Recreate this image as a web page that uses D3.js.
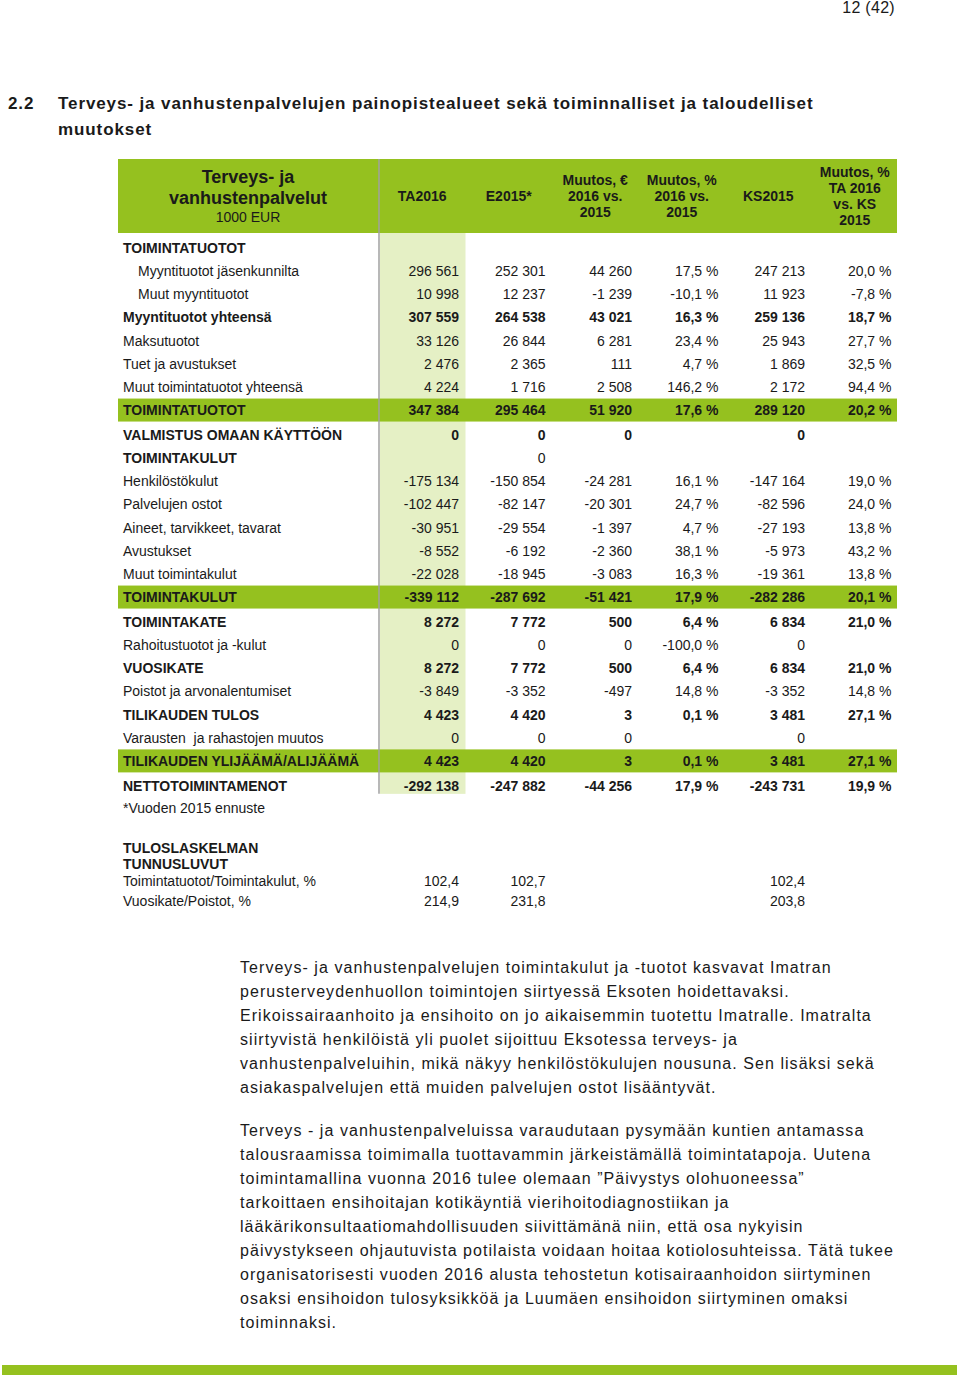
<!DOCTYPE html>
<html>
<head>
<meta charset="utf-8">
<script src="https://d3js.org/d3.v7.min.js"></script>
<style>
  body { margin: 0; background: #fff; }
  svg text { font-family: "Liberation Sans", Arial, sans-serif; fill: #1a1a1a; }
</style>
</head>
<body>
<div id="page"></div>
<script>
// Table data (1000 EUR)
const columns = ["TA2016", "E2015*", "Muutos, € 2016 vs. 2015", "Muutos, % 2016 vs. 2015", "KS2015", "Muutos, % TA 2016 vs. KS 2015"];
const columnHeaderLines = [["TA2016"], ["E2015*"], ["Muutos, €", "2016 vs.", "2015"], ["Muutos, %", "2016 vs.", "2015"], ["KS2015"], ["Muutos, %", "TA 2016", "vs. KS", "2015"]];
const percentColumns = [3, 5];

const rowLabels = [
  "TOIMINTATUOTOT", "Myyntituotot jäsenkunnilta", "Muut myyntituotot", "Myyntituotot yhteensä",
  "Maksutuotot", "Tuet ja avustukset", "Muut toimintatuotot yhteensä", "TOIMINTATUOTOT",
  "VALMISTUS OMAAN KÄYTTÖÖN", "TOIMINTAKULUT", "Henkilöstökulut", "Palvelujen ostot",
  "Aineet, tarvikkeet, tavarat", "Avustukset", "Muut toimintakulut", "TOIMINTAKULUT",
  "TOIMINTAKATE", "Rahoitustuotot ja -kulut", "VUOSIKATE", "Poistot ja arvonalentumiset",
  "TILIKAUDEN TULOS", "Varausten  ja rahastojen muutos", "TILIKAUDEN YLIJÄÄMÄ/ALIJÄÄMÄ", "NETTOTOIMINTAMENOT"
];
// head = bold label only, indent, normal, bold, green = highlighted total
const rowKinds = [
  "head", "indent", "indent", "bold", "normal", "normal", "normal", "green",
  "bold", "head", "normal", "normal", "normal", "normal", "normal", "green",
  "bold", "normal", "bold", "normal", "bold", "normal", "green", "bold"
];
const ta2016 =    [null, 296561, 10998, 307559, 33126, 2476, 4224, 347384, 0, null, -175134, -102447, -30951, -8552, -22028, -339112, 8272, 0, 8272, -3849, 4423, 0, 4423, -292138];
const e2015 =     [null, 252301, 12237, 264538, 26844, 2365, 1716, 295464, 0, 0, -150854, -82147, -29554, -6192, -18945, -287692, 7772, 0, 7772, -3352, 4420, 0, 4420, -247882];
const muutosEur = [null, 44260, -1239, 43021, 6281, 111, 2508, 51920, 0, null, -24281, -20301, -1397, -2360, -3083, -51421, 500, 0, 500, -497, 3, 0, 3, -44256];
const muutosPct = [null, 17.5, -10.1, 16.3, 23.4, 4.7, 146.2, 17.6, null, null, 16.1, 24.7, 4.7, 38.1, 16.3, 17.9, 6.4, -100.0, 6.4, 14.8, 0.1, null, 0.1, 17.9];
const ks2015 =    [null, 247213, 11923, 259136, 25943, 1869, 2172, 289120, 0, null, -147164, -82596, -27193, -5973, -19361, -282286, 6834, 0, 6834, -3352, 3481, 0, 3481, -243731];
const muutosKs =  [null, 20.0, -7.8, 18.7, 27.7, 32.5, 94.4, 20.2, null, null, 19.0, 24.0, 13.8, 43.2, 13.8, 20.1, 21.0, null, 21.0, 14.8, 27.1, null, 27.1, 19.9];
const seriesValues = [ta2016, e2015, muutosEur, muutosPct, ks2015, muutosKs];

// Key figures
const keyLabels = ["Toimintatuotot/Toimintakulut, %", "Vuosikate/Poistot, %"];
const keyTA2016 = [102.4, 214.9];
const keyE2015 = [102.7, 231.8];
const keyKS2015 = [102.4, 203.8];

const paragraph1 = [
  "Terveys- ja vanhustenpalvelujen toimintakulut ja -tuotot kasvavat Imatran",
  "perusterveydenhuollon toimintojen siirtyessä Eksoten hoidettavaksi.",
  "Erikoissairaanhoito ja ensihoito on jo aikaisemmin tuotettu Imatralle. Imatralta",
  "siirtyvistä henkilöistä yli puolet sijoittuu Eksotessa terveys- ja",
  "vanhustenpalveluihin, mikä näkyy henkilöstökulujen nousuna. Sen lisäksi sekä",
  "asiakaspalvelujen että muiden palvelujen ostot lisääntyvät."
];
const paragraph2 = [
  "Terveys - ja vanhustenpalveluissa varaudutaan pysymään kuntien antamassa",
  "talousraamissa toimimalla tuottavammin järkeistämällä toimintatapoja. Uutena",
  "toimintamallina vuonna 2016 tulee olemaan ”Päivystys olohuoneessa”",
  "tarkoittaen ensihoitajan kotikäyntiä vierihoitodiagnostiikan ja",
  "lääkärikonsultaatiomahdollisuuden siivittämänä niin, että osa nykyisin",
  "päivystykseen ohjautuvista potilaista voidaan hoitaa kotiolosuhteissa. Tätä tukee",
  "organisatorisesti vuoden 2016 alusta tehostetun kotisairaanhoidon siirtyminen",
  "osaksi ensihoidon tulosyksikköä ja Luumäen ensihoidon siirtyminen omaksi",
  "toiminnaksi."
];

const width = 960, height = 1380;
const green = "#95c11f", lightGreen = "#e5f0c5";

const fi = d3.formatLocale({ decimal: ",", thousands: "\u00a0", grouping: [3], currency: ["", "€"], minus: "-" });
const fmtNum = fi.format(",d");
const fmtPct = v => fi.format(",.1f")(v) + " %";
const fmtDec = fi.format(",.1f");

const svg = d3.select("#page").append("svg")
  .attr("width", width).attr("height", height);

svg.append("rect").attr("width", width).attr("height", height).attr("fill", "#fff");

// page number and section heading
svg.append("text").attr("x", 895).attr("y", 13).attr("text-anchor", "end")
  .style("font-size", "16px").style("letter-spacing", "0.3px").text("12 (42)");
const heading = svg.append("g").style("font-size", "17px").style("font-weight", "bold").style("letter-spacing", "0.9px");
heading.append("text").attr("x", 8).attr("y", 109).text("2.2");
heading.append("text").attr("x", 58).attr("y", 109)
  .text("Terveys- ja vanhustenpalvelujen painopistealueet sekä toiminnalliset ja taloudelliset");
heading.append("text").attr("x", 58).attr("y", 135).text("muutokset");

// scales
const tableLeft = 118, tableRight = 897, dividerX = 379;
const x = d3.scaleBand().domain(d3.range(columns.length)).range([380, 899]);
const rowStep = 23.15;
const extraAfterGreen = rowKinds.map((k, i) => rowKinds.slice(0, i).filter(r => r === "green").length * 1.8);
const y = d3.scaleLinear().domain([0, 1]).range([248, 248 + rowStep]);
const rowY = i => y(i) + extraAfterGreen[i];

const headerTop = 159, headerBottom = 233;
const tableBottom = rowY(rowLabels.length - 1) + 8;

// light green TA2016 column
svg.append("rect")
  .attr("x", x(0)).attr("y", headerBottom)
  .attr("width", x.bandwidth() - 1).attr("height", tableBottom - headerBottom)
  .attr("fill", lightGreen);

// header band
svg.append("rect")
  .attr("x", tableLeft).attr("y", headerTop)
  .attr("width", tableRight - tableLeft).attr("height", headerBottom - headerTop)
  .attr("fill", green);

// green total rows
svg.selectAll("rect.total")
  .data(rowKinds.map((k, i) => ({ k, i })).filter(d => d.k === "green"))
  .join("rect")
  .attr("class", "total")
  .attr("x", tableLeft).attr("y", d => rowY(d.i) - 11.5)
  .attr("width", tableRight - tableLeft).attr("height", 23)
  .attr("fill", green);

// vertical divider
svg.append("line")
  .attr("x1", dividerX).attr("x2", dividerX)
  .attr("y1", headerTop).attr("y2", tableBottom)
  .attr("stroke", "#a0a0a0").attr("stroke-width", 1.5);

// header texts
const hdr = svg.append("g").attr("text-anchor", "middle");
hdr.append("text").attr("x", 248).attr("y", 183).style("font-size", "18px").style("font-weight", "bold").text("Terveys- ja");
hdr.append("text").attr("x", 248).attr("y", 204).style("font-size", "18px").style("font-weight", "bold").text("vanhustenpalvelut");
hdr.append("text").attr("x", 248).attr("y", 222).style("font-size", "14px").text("1000 EUR");

columnHeaderLines.forEach((lines, c) => {
  const cx = x(c) + x.bandwidth() / 2 - 1;
  const top = 196 - (lines.length - 1) * 16 / 2;
  lines.forEach((ln, j) => {
    hdr.append("text")
      .attr("x", cx).attr("y", top + j * 16).attr("dy", "0.35em")
      .style("font-size", "14px").style("font-weight", "bold")
      .text(ln);
  });
});

// row labels
svg.append("g").selectAll("text")
  .data(rowLabels.map((label, i) => ({ label, i, kind: rowKinds[i] })))
  .join("text")
  .attr("x", d => d.kind === "indent" ? 138 : 123)
  .attr("y", d => rowY(d.i)).attr("dy", "0.35em")
  .style("font-size", "14px")
  .style("font-weight", d => (d.kind === "bold" || d.kind === "green" || d.kind === "head") ? "bold" : "normal")
  .style("white-space", "pre")
  .text(d => d.label);

// cell values
const cells = [];
seriesValues.forEach((vals, c) => {
  vals.forEach((v, i) => {
    if (v === null) return;
    cells.push({ c, i, v, kind: rowKinds[i] });
  });
});
svg.append("g").attr("text-anchor", "end").selectAll("text")
  .data(cells)
  .join("text")
  .attr("x", d => x(d.c) + x.bandwidth() - 7.5)
  .attr("y", d => rowY(d.i)).attr("dy", "0.35em")
  .style("font-size", "14px")
  .style("font-weight", d => (d.kind === "bold" || d.kind === "green") ? "bold" : "normal")
  .text(d => percentColumns.includes(d.c) ? fmtPct(d.v) : fmtNum(d.v));

// footnote and key figures
svg.append("text").attr("x", 123).attr("y", 808).attr("dy", "0.35em").style("font-size", "14px").text("*Vuoden 2015 ennuste");
svg.append("text").attr("x", 123).attr("y", 848).attr("dy", "0.35em").style("font-size", "14px").style("font-weight", "bold").text("TULOSLASKELMAN");
svg.append("text").attr("x", 123).attr("y", 864).attr("dy", "0.35em").style("font-size", "14px").style("font-weight", "bold").text("TUNNUSLUVUT");

const keyY = d3.scalePoint().domain(d3.range(keyLabels.length)).range([881, 901]);
const keyG = svg.append("g");
keyLabels.forEach((lab, i) => {
  keyG.append("text").attr("x", 123).attr("y", keyY(i)).attr("dy", "0.35em").style("font-size", "14px").text(lab);
  [[0, keyTA2016[i]], [1, keyE2015[i]], [4, keyKS2015[i]]].forEach(([c, v]) => {
    keyG.append("text").attr("text-anchor", "end")
      .attr("x", x(c) + x.bandwidth() - 7.5).attr("y", keyY(i)).attr("dy", "0.35em")
      .style("font-size", "14px").text(fmtDec(v));
  });
});

// body paragraphs
const body = svg.append("g").style("font-size", "16px").style("letter-spacing", "1.05px");
paragraph1.forEach((ln, i) => body.append("text").attr("x", 240).attr("y", 967 + i * 24).attr("dy", "0.35em").text(ln));
paragraph2.forEach((ln, i) => body.append("text").attr("x", 240).attr("y", 1130 + i * 24).attr("dy", "0.35em").text(ln));

// bottom bar
svg.append("rect").attr("x", 2).attr("y", 1365).attr("width", 955).attr("height", 10).attr("fill", green);
</script>
</body>
</html>
